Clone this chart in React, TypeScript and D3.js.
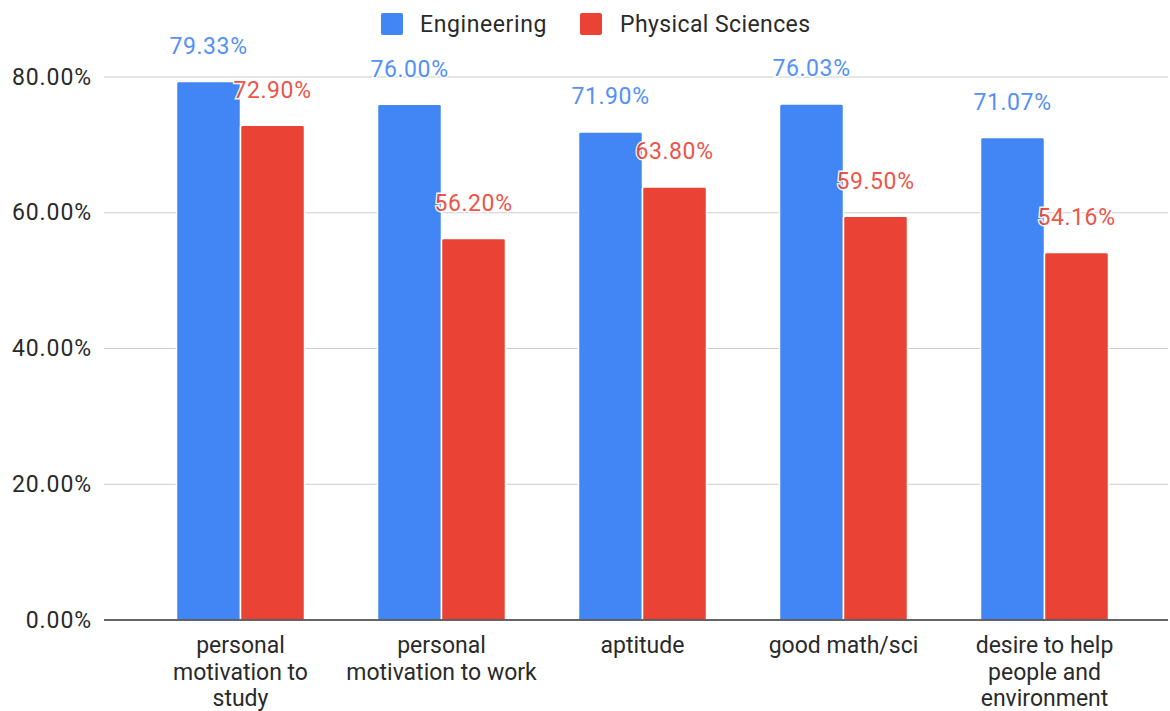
import React from "react";
import * as d3 from "d3";

const categories: string[][] = [
  ["personal", "motivation to", "study"],
  ["personal", "motivation to work"],
  ["aptitude"],
  ["good math/sci"],
  ["desire to help", "people and", "environment"],
];
const engineering = [79.33, 76.0, 71.9, 76.03, 71.07];
const physicalSciences = [72.9, 56.2, 63.8, 59.5, 54.16];
const yTicks = [0, 20, 40, 60, 80];
const seriesNames = ["Engineering", "Physical Sciences"];
const seriesColors = ["#4285F4", "#EA4335"];

const W = 1170;
const H = 711;
const FONT = "Roboto, Arial, sans-serif";
const FS = 23;
const TEXT = "#2a2a2a";

export default function App() {
  const keys = categories.map((_, i) => String(i));
  const x = d3.scaleBand<string>().domain(keys).range([140, 1145]).paddingInner(0).paddingOuter(0);
  const y = d3.scaleLinear().domain([0, 80]).range([620, 77]);
  const groupWidth = 128;
  const inner = d3.scaleBand<string>().domain(seriesNames).range([0, groupWidth]);
  const series = [engineering, physicalSciences];

  const barPath = (bx: number, bw: number, v: number) => {
    const top = y(v);
    const r = 2;
    return `M${bx},${y(0)} V${top + r} Q${bx},${top} ${bx + r},${top} H${bx + bw - r} Q${bx + bw},${top} ${bx + bw},${top + r} V${y(0)} Z`;
  };

  return (
    <svg
      width={W}
      height={H}
      style={{ position: "absolute", left: 0, top: 0, background: "#fff" }}
      fontFamily={FONT}
    >
      {/* gridlines and y labels */}
      {yTicks.map((t) => (
        <g key={t}>
          {t !== 0 && (
            <line x1={104} x2={1168} y1={y(t)} y2={y(t)} stroke="#cccccc" strokeWidth={1} />
          )}
          <text
            x={92}
            y={y(t)}
            textAnchor="end"
            dominantBaseline="central"
            fontSize={FS}
            letterSpacing={0.9}
            fill={TEXT}
          >
            {t.toFixed(2)}%
          </text>
        </g>
      ))}

      {/* bars */}
      {keys.map((k, i) => {
        const gx = (x(k) as number) + x.bandwidth() / 2 - groupWidth / 2;
        return (
          <g key={k}>
            {series.map((vals, s) => (
              <path
                key={s}
                d={barPath(gx + (inner(seriesNames[s]) as number), inner.bandwidth(), vals[i])}
                fill={seriesColors[s]}
                stroke="#fff"
                strokeWidth={1.5}
              />
            ))}
          </g>
        );
      })}

      {/* baseline */}
      <line x1={104} x2={1168} y1={y(0)} y2={y(0)} stroke="#333" strokeWidth={1.3} />

      {/* value labels */}
      {keys.map((k, i) => {
        const gx = (x(k) as number) + x.bandwidth() / 2 - groupWidth / 2;
        return (
          <g key={k}>
            {series.map((vals, s) => {
              const cx = gx + (inner(seriesNames[s]) as number) + inner.bandwidth() / 2;
              return (
                <text
                  key={s}
                  x={cx}
                  y={y(vals[i]) - 35}
                  textAnchor="middle"
                  dominantBaseline="central"
                  fontSize={FS}
                  letterSpacing={0.6}
                  fill={seriesColors[s]}
                  stroke="#fff"
                  strokeWidth={3}
                  paintOrder="stroke"
                  opacity={0.9}
                >
                  {vals[i].toFixed(2)}%
                </text>
              );
            })}
          </g>
        );
      })}

      {/* category labels */}
      {categories.map((lines, i) => {
        const cx = (x(String(i)) as number) + x.bandwidth() / 2;
        return (
          <text key={i} textAnchor="middle" fontSize={FS} fill={TEXT}>
            {lines.map((ln, j) => (
              <tspan key={j} x={cx} y={653 + j * 26.5}>
                {ln}
              </tspan>
            ))}
          </text>
        );
      })}

      {/* legend */}
      <g>
        <rect x={381} y={13} width={22} height={22} rx={2} fill={seriesColors[0]} />
        <text x={420} y={24} dominantBaseline="central" fontSize={FS} letterSpacing={0.6} fill={TEXT}>
          {seriesNames[0]}
        </text>
        <rect x={580} y={13} width={22} height={22} rx={2} fill={seriesColors[1]} />
        <text x={620} y={24} dominantBaseline="central" fontSize={FS} letterSpacing={0.4} fill={TEXT}>
          {seriesNames[1]}
        </text>
      </g>
    </svg>
  );
}
